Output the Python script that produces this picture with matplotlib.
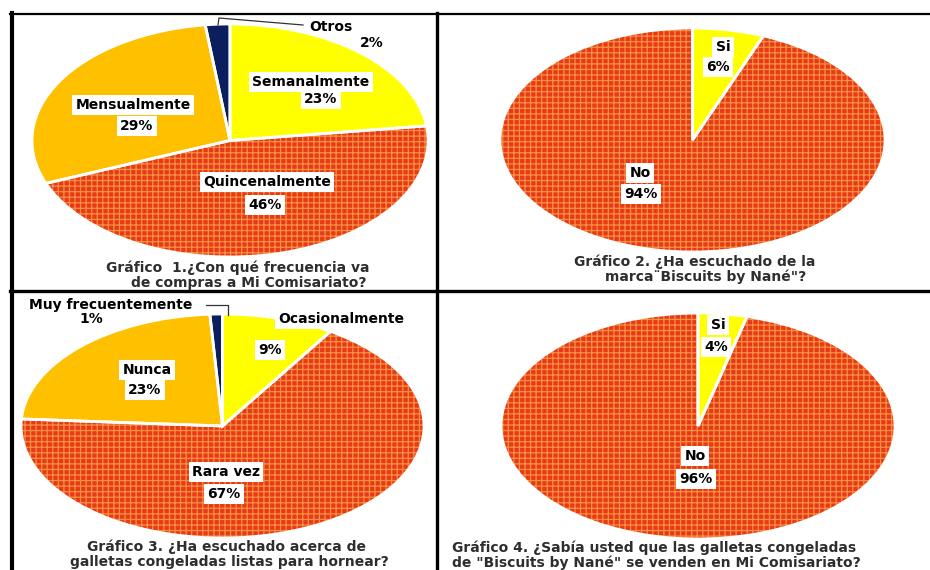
import matplotlib.pyplot as plt
from matplotlib.lines import Line2D

W, H = 930, 570

# -------------------- Data --------------------
freq_labels = ["Semanalmente", "Quincenalmente", "Mensualmente", "Otros"]
freq_values = [23, 46, 29, 2]

brand_labels = ["Si", "No"]
brand_values = [6, 94]

heard_labels = ["Ocasionalmente", "Rara vez", "Nunca", "Muy frecuentemente"]
heard_values = [9, 67, 23, 1]

sold_labels = ["Si", "No"]
sold_values = [4, 96]

titles = [
    ["Gráfico  1.¿Con qué frecuencia va", "de compras a Mi Comisariato?"],
    ["Gráfico 2. ¿Ha escuchado de la", "marca¨Biscuits by Nané\"?"],
    ["Gráfico 3. ¿Ha escuchado acerca de", "galletas congeladas listas para hornear?"],
    ["Gráfico 4. ¿Sabía usted que las galletas congeladas",
     "de \"Biscuits by Nané\" se venden en Mi Comisariato?"],
]

# -------------------- Style --------------------
YELLOW = "#FFFF00"
RED = "#E63A18"
RED_GRID = "#F99040"
ORANGE = "#FFC000"
NAVY = "#0B1F5E"

plt.rcParams["font.family"] = "DejaVu Sans"
plt.rcParams["hatch.linewidth"] = 0.9


def px(x, y):
    return x / W, 1 - y / H


def pie_axes(fig, box):
    x0, y0, x1, y1 = box
    ax = fig.add_axes([x0 / W, 1 - y1 / H, (x1 - x0) / W, (y1 - y0) / H])
    return ax


def draw_pie(ax, values, colors, hatched):
    wedges, _ = ax.pie(values, colors=colors, startangle=90, counterclock=False,
                       wedgeprops=dict(linewidth=0))
    for w, h in zip(wedges, hatched):
        if h:
            w.set_hatch("+++")
            w.set_edgecolor(RED_GRID)
            w.set_linewidth(0)
    ax.pie(values, startangle=90, counterclock=False,
           wedgeprops=dict(fill=False, edgecolor="white", linewidth=2))
    ax.set_aspect("auto")
    ax.set_xlim(-1.0, 1.0)
    ax.set_ylim(-1.0, 1.0)
    ax.axis("off")


def label(fig, text, x, y, boxed=True, size=10):
    bbox = dict(boxstyle="square,pad=0.25", fc="white", ec="none") if boxed else None
    fig.text(*px(x, y), text, ha="center", va="center", fontsize=size,
             fontweight="bold", color="black", bbox=bbox)


def title(fig, lines, xs, ys, ha="center"):
    for line, x, y in zip(lines, xs, ys):
        fig.text(*px(x, y), line, ha=ha, va="center", fontsize=10,
                 fontweight="bold", color="#2e2e2e")


fig = plt.figure(figsize=(9.3, 5.7), dpi=100)

# -------------------- Chart 1 --------------------
ax1 = pie_axes(fig, (32, 24, 428, 257))
draw_pie(ax1, freq_values, [YELLOW, RED, ORANGE, NAVY], [False, True, False, False])
label(fig, freq_labels[0], 311, 82)
label(fig, f"{freq_values[0]}%", 321, 99)
label(fig, freq_labels[1], 267, 182)
label(fig, f"{freq_values[1]}%", 265, 205)
label(fig, freq_labels[2], 133, 105)
label(fig, f"{freq_values[2]}%", 137, 126)
label(fig, freq_labels[3], 331, 27, boxed=False)
label(fig, f"{freq_values[3]}%", 372, 43, boxed=False)
fig.add_artist(Line2D([218 / W, 219 / W, 303 / W], [1 - 25 / H, 1 - 18 / H, 1 - 25 / H],
                      color="#333333", lw=0.9))
title(fig, titles[0], [238, 249], [268, 283])

# -------------------- Chart 2 --------------------
ax2 = pie_axes(fig, (500, 28, 885, 252))
draw_pie(ax2, brand_values, [YELLOW, RED], [False, True])
label(fig, brand_labels[0], 723, 47)
label(fig, f"{brand_values[0]}%", 718, 67)
label(fig, brand_labels[1], 640, 173)
label(fig, f"{brand_values[1]}%", 641, 194)
title(fig, titles[1], [695, 706], [262, 277])

# -------------------- Chart 3 --------------------
ax3 = pie_axes(fig, (21, 314, 424, 538))
draw_pie(ax3, heard_values, [YELLOW, RED, ORANGE, NAVY], [False, True, False, False])
label(fig, heard_labels[0], 341, 319)
label(fig, f"{heard_values[0]}%", 270, 350)
label(fig, heard_labels[1], 226, 472)
label(fig, f"{heard_values[1]}%", 224, 494)
label(fig, heard_labels[2], 147, 370)
label(fig, f"{heard_values[2]}%", 145, 390)
label(fig, heard_labels[3], 111, 305, boxed=False)
label(fig, f"{heard_values[3]}%", 91, 319, boxed=False)
fig.add_artist(Line2D([206 / W, 228 / W, 228 / W], [1 - 305 / H, 1 - 305 / H, 1 - 315 / H],
                      color="#333333", lw=0.9))
title(fig, titles[2], [226, 229], [547, 562])

# -------------------- Chart 4 --------------------
ax4 = pie_axes(fig, (501, 313, 895, 539))
draw_pie(ax4, sold_values, [YELLOW, RED], [False, True])
label(fig, sold_labels[0], 718, 325)
label(fig, f"{sold_values[0]}%", 716, 347)
label(fig, sold_labels[1], 695, 456)
label(fig, f"{sold_values[1]}%", 696, 479)
title(fig, titles[3], [452, 452], [548, 563], ha="left")

# -------------------- Panel borders --------------------
for xs, ys, lw in [
    ([10, 930], [14, 14], 1.6),
    ([12, 12], [13, 570], 3.0),
    ([437, 437], [13, 570], 2.4),
    ([10, 930], [291, 291], 2.4),
]:
    fig.add_artist(Line2D([x / W for x in xs], [1 - y / H for y in ys],
                          color="black", lw=lw))

fig.savefig("out.png", dpi=100)
